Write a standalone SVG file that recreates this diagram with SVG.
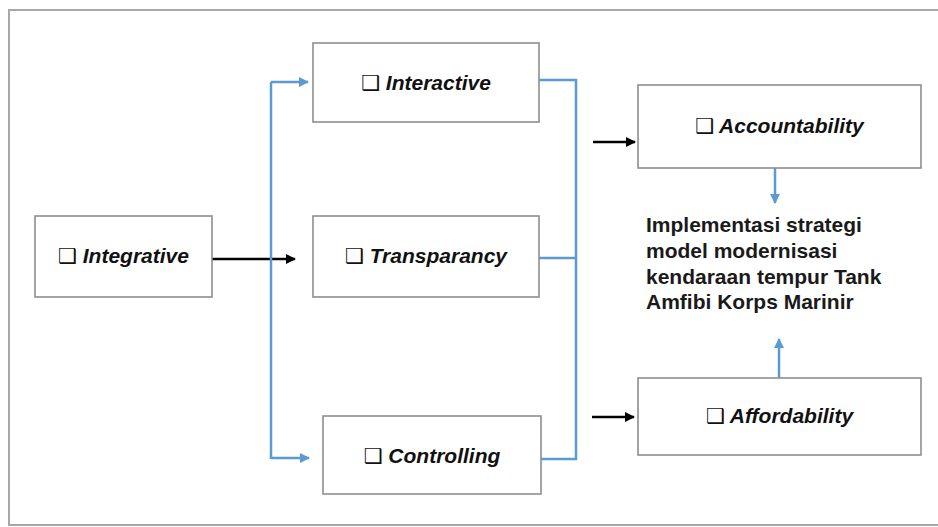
<svg xmlns="http://www.w3.org/2000/svg" width="938" height="527" viewBox="0 0 938 527">
<defs>
<style>
.box{fill:#fff;stroke:#8e8e8e;stroke-width:1.6}
.lbl{font-family:"Liberation Sans",Arial,sans-serif;font-weight:bold;font-style:italic;font-size:21px;fill:#111;text-anchor:middle}
.sq{font-family:"DejaVu Sans",sans-serif;font-style:normal;font-weight:normal}
.blue{fill:none;stroke:#5b9bd5;stroke-width:2.5}
.blk{fill:none;stroke:#000;stroke-width:2.5}
.main{font-family:"Liberation Sans",Arial,sans-serif;font-weight:bold;font-size:21px;fill:#1a1a1a}
</style>
<marker id="ab" viewBox="0 0 10 10" refX="9" refY="5" markerWidth="4" markerHeight="4" orient="auto" markerUnits="strokeWidth"><path d="M0,0 L10,5 L0,10 z" fill="#5b9bd5"/></marker>
<marker id="ak" viewBox="0 0 10 10" refX="9" refY="5" markerWidth="4" markerHeight="4" orient="auto" markerUnits="strokeWidth"><path d="M0,0 L10,5 L0,10 z" fill="#000"/></marker>
</defs>
<rect x="0" y="0" width="938" height="527" fill="#fff"/>
<rect x="9" y="10" width="940" height="515" fill="none" stroke="#a8a8a8" stroke-width="2"/>
<g id="connectors">
<path class="blk" d="M212,259 L295,259" marker-end="url(#ak)"/>
<path class="blue" d="M271,459 L271,82"/>
<path class="blue" d="M271,82 L308,82" marker-end="url(#ab)"/>
<path class="blue" d="M271,458 L309,458" marker-end="url(#ab)"/>
<path class="blue" d="M539,80 L576,80 L576,459 L541,459"/>
<path class="blue" d="M539,258 L576,258"/>
<path class="blk" d="M593,142 L635,142" marker-end="url(#ak)"/>
<path class="blk" d="M592,417 L634,417" marker-end="url(#ak)"/>
<path class="blue" d="M775,168 L775,203" marker-end="url(#ab)"/>
<path class="blue" d="M779,378 L779,339" marker-end="url(#ab)"/>
</g>
<g id="integrative"><rect class="box" x="35" y="216" width="177" height="81"/><text class="lbl" x="123.5" y="263"><tspan class="sq">❑</tspan> Integrative</text></g>
<g id="interactive"><rect class="box" x="313" y="43" width="226" height="79"/><text class="lbl" x="426" y="90"><tspan class="sq">❑</tspan> Interactive</text></g>
<g id="transparancy"><rect class="box" x="313" y="216" width="226" height="81"/><text class="lbl" x="426" y="263"><tspan class="sq">❑</tspan> Transparancy</text></g>
<g id="controlling"><rect class="box" x="323" y="416" width="218" height="78"/><text class="lbl" x="432" y="463"><tspan class="sq">❑</tspan> Controlling</text></g>
<g id="accountability"><rect class="box" x="638" y="85" width="283" height="83"/><text class="lbl" x="779.5" y="133"><tspan class="sq">❑</tspan> Accountability</text></g>
<g id="affordability"><rect class="box" x="638" y="378" width="283" height="77"/><text class="lbl" x="779.5" y="423"><tspan class="sq">❑</tspan> Affordability</text></g>
<g id="implementasi"><text class="main" x="646" y="232">Implementasi strategi</text><text class="main" x="646" y="258">model modernisasi</text><text class="main" x="646" y="284">kendaraan tempur Tank</text><text class="main" x="646" y="309">Amfibi Korps Marinir</text></g>
</svg>
